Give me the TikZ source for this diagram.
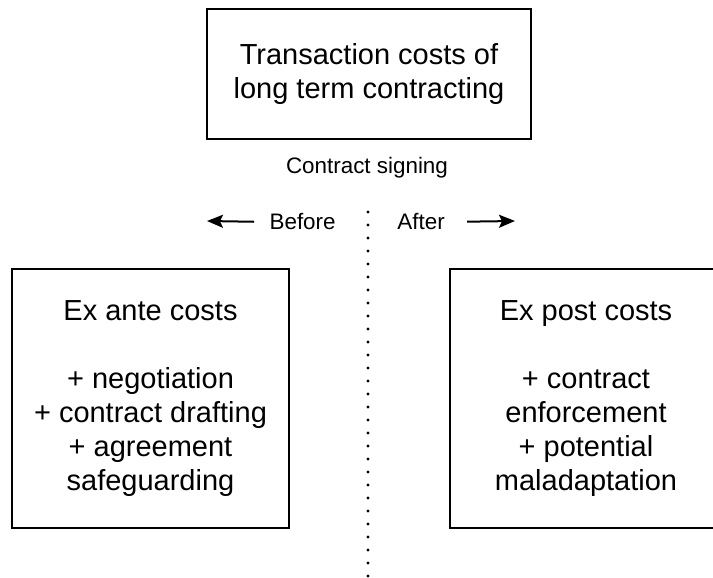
\documentclass[tikz,border=0pt]{standalone}
\usepackage{fontspec}
\setmainfont{Liberation Sans}
\usetikzlibrary{arrows.meta,positioning}

\begin{document}
\begin{tikzpicture}[x=0.5pt, y=-0.5pt, >={Stealth[length=8pt,width=6.5pt,inset=1.5pt]}]
    \tikzstyle{costbox} = [draw, line width=0.8pt, align=center, inner sep=0pt,
	font=\fontsize{14.5}{17}\selectfont]
    \tikzstyle{timetext} = [inner sep=0pt, font=\fontsize{11.2}{13}\selectfont]
    \tikzstyle{divider} = [line width=1.6pt, line cap=round,
	dash pattern=on 0pt off 6.5pt]

	\useasboundingbox (0,0) rectangle (713,578);
	\clip (0,0) rectangle (713,578);

	\begin{scope}
		\path
			node[costbox, minimum width=162pt, minimum height=65pt] (tc) at (369,74)
				{Transaction costs of\\long term contracting}
			node[timetext] (signing) at (367,168) {Contract signing}

			coordinate (divtop) at (368,212)
			coordinate (divbot) at (368,580)
			coordinate (mid) at (368,222)

			node[timetext, left=16pt of mid] (before) {Before}
			node[timetext, right=14.5pt of mid] (after) {After}
			coordinate (backtip) at (207,221)
			coordinate (fwdtip) at (515,221)

			node[costbox, minimum width=138.5pt, minimum height=129.5pt] (exante) at (150.5,398.5)
				{Ex ante costs\\[17pt]+ negotiation\\+ contract drafting\\+ agreement\\safeguarding}
			node[costbox, minimum width=136pt, minimum height=129.5pt] (expost) at (586,398.5)
				{Ex post costs\\[17pt]+ contract\\enforcement\\+ potential\\maladaptation}
		;

		\draw[divider] (divtop) -- (divbot);
		\draw[->, line width=1pt, shorten <=7.5pt] (before.west) -- (backtip);
		\draw[->, line width=1pt, shorten <=11pt] (after.east) -- (fwdtip);
	\end{scope}
\end{tikzpicture}
\end{document}
